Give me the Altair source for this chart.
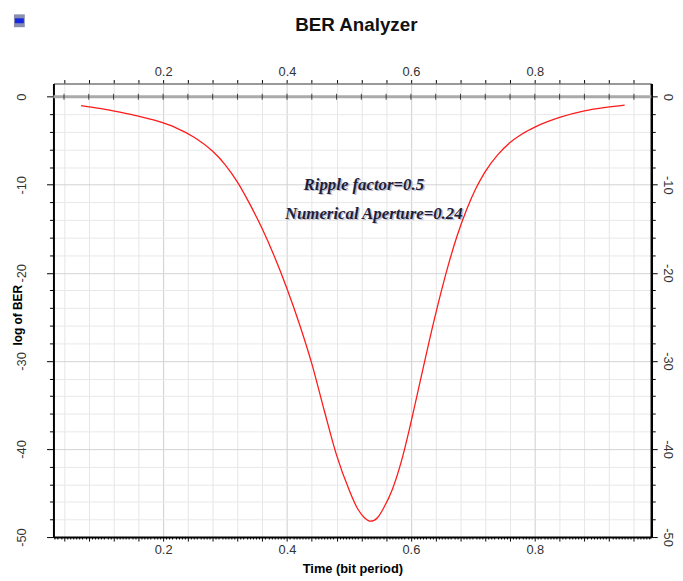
import altair as alt
import pandas as pd

# ---- data ----
time_bit = [0.0675, 0.10, 0.13, 0.16, 0.19, 0.22, 0.25, 0.28, 0.30, 0.32,
            0.34, 0.36, 0.38, 0.40, 0.42, 0.44, 0.46, 0.48, 0.50, 0.515,
            0.525, 0.535, 0.546, 0.556, 0.57, 0.585, 0.60, 0.615, 0.63, 0.645,
            0.66, 0.675, 0.69, 0.705, 0.72, 0.74, 0.76, 0.78, 0.80, 0.84,
            0.88, 0.915, 0.945]
log_ber = [-1.0, -1.35, -1.75, -2.2, -2.75, -3.5, -4.6, -6.2, -7.7, -9.7,
           -12.2, -15.0, -18.2, -21.8, -25.8, -30.3, -35.6, -40.7, -44.6, -46.9,
           -47.8, -48.2, -47.8, -46.7, -44.6, -41.3, -37.0, -32.3, -27.6, -23.2,
           -19.2, -15.7, -12.8, -10.4, -8.5, -6.6, -5.2, -4.2, -3.45, -2.35,
           -1.6, -1.2, -0.95]

annot_text = ["Ripple factor=0.5", "Numerical Aperture=0.24"]
annot_x = [0.524, 0.54]
annot_y = [-10.0, -13.3]

# axis tick positions
bottom_ticks = [round(0.025 + 0.005 * i, 3) for i in range(193)]
top_ticks = [round(0.04 * i, 2) for i in range(1, 25)]
y_ticks = list(range(-50, 1, 2))

df = pd.DataFrame({"t": time_bit, "ber": log_ber})
df_annot = pd.DataFrame({"x": annot_x, "y": annot_y, "label": annot_text})
df_zero = pd.DataFrame({"v": top_ticks})

xscale = alt.Scale(domain=[0.023, 0.988], nice=False, zero=False)
yscale = alt.Scale(domain=[-50, 1.5], nice=False, zero=False)

FONT = "Liberation Sans"
x_major = "abs(datum.value*5 - round(datum.value*5)) < 0.001"
x_grid = "abs(datum.value*25 - round(datum.value*25)) < 0.001"
y_major = "abs(datum.value/10 - round(datum.value/10)) < 0.001"

bottom_axis = alt.Axis(
    orient="bottom", values=bottom_ticks,
    labelExpr=f"{x_major} ? format(datum.value, '.1f') : ''",
    labelFont=FONT, labelFontSize=13, labelColor="#333333", labelPadding=3,
    labelOverlap=False, labelFlush=False,
    tickSize={"condition": {"test": x_grid, "value": 4}, "value": 2},
    tickColor="black", tickWidth=1,
    domainColor="black", domainWidth=2,
    grid=True,
    gridColor={"condition": {"test": x_major, "value": "#cdcdcd"}, "value": "#e6e6e6"},
    gridOpacity={"condition": {"test": x_grid, "value": 1}, "value": 0},
    gridWidth=1,
    title="Time (bit period)", titleFont=FONT, titleFontSize=13,
    titleFontWeight="bold", titleColor="black", titleY=32, titleBaseline="middle",
)

left_axis = alt.Axis(
    orient="left", values=y_ticks,
    labelExpr=f"{y_major} ? '' + datum.value : ''",
    labelFont=FONT, labelFontSize=13, labelColor="#333333",
    labelAngle=270, labelAlign="center", labelBaseline="middle", labelPadding=25,
    labelOverlap=False, labelFlush=False,
    tickSize={"condition": {"test": y_major, "value": 7}, "value": 4},
    tickColor="black", tickWidth=1,
    domainColor="black", domainWidth=2,
    grid=True,
    gridColor={"condition": {"test": y_major, "value": "#d2d2d2"}, "value": "#e8e8e8"},
    gridWidth=1,
    title="log of BER", titleFont=FONT, titleFontSize=12, titleFontWeight="bold",
    titleColor="black", titleAngle=270, titleX=-36, titleY=234,
    titleAlign="center", titleBaseline="middle",
)

top_axis = alt.Axis(
    orient="top", values=top_ticks,
    labelExpr=f"{x_major} ? format(datum.value, '.1f') : ''",
    labelFont=FONT, labelFontSize=13, labelColor="#333333", labelPadding=1,
    labelOverlap=False, labelFlush=False,
    tickSize=4, tickColor="black", tickWidth=1,
    domainColor="#777777", domainWidth=1.5,
    grid=False, title=None,
)

right_axis = alt.Axis(
    orient="right", values=y_ticks,
    labelExpr=f"{y_major} ? '' + datum.value : ''",
    labelFont=FONT, labelFontSize=13, labelColor="#333333",
    labelAngle=90, labelAlign="center", labelBaseline="middle", labelPadding=10,
    labelOverlap=False, labelFlush=False,
    tickSize={"condition": {"test": y_major, "value": 6}, "value": 4},
    tickColor="black", tickWidth=1,
    domainColor="black", domainWidth=2.5,
    grid=False, title=None,
)

line = alt.Chart(df).mark_line(color="#ff1a1a", strokeWidth=1.3, interpolate="monotone").encode(
    x=alt.X("t:Q", scale=xscale, axis=bottom_axis),
    y=alt.Y("ber:Q", scale=yscale, axis=left_axis),
)

zero_rule = alt.Chart(alt.Data(values=[{}])).mark_rule(color="#aaaaaa", strokeWidth=3).encode(
    y=alt.YDatum(0, scale=yscale, axis=None),
)

zero_ticks = alt.Chart(df_zero).mark_tick(color="black", thickness=1, size=6, orient="vertical").encode(
    x=alt.X("v:Q", scale=xscale, axis=None),
    y=alt.YDatum(0, scale=yscale, axis=None),
)

shadow = alt.Chart(df_annot).mark_text(
    font="Liberation Serif", fontSize=17, fontWeight="bold", fontStyle="italic",
    color="#9090a8", opacity=0.55, dx=1.5, dy=1.5,
).encode(
    x=alt.X("x:Q", scale=xscale, axis=None),
    y=alt.Y("y:Q", scale=yscale, axis=None),
    text="label:N",
)

annot = alt.Chart(df_annot).mark_text(
    font="Liberation Serif", fontSize=17, fontWeight="bold", fontStyle="italic",
    color="#1e1e3c",
).encode(
    x=alt.X("x:Q", scale=xscale, axis=top_axis),
    y=alt.Y("y:Q", scale=yscale, axis=right_axis),
    text="label:N",
)

icon_bg = alt.Chart(alt.Data(values=[{}])).mark_rect(color="#8a8fb0").encode(
    x=alt.value(-40), x2=alt.value(-29), y=alt.value(-70), y2=alt.value(-57),
)
icon_band = alt.Chart(alt.Data(values=[{}])).mark_rect(color="#1428e0").encode(
    x=alt.value(-39), x2=alt.value(-30), y=alt.value(-66), y2=alt.value(-61),
)

chart = alt.layer(
    zero_rule, zero_ticks, line, shadow, annot, icon_bg, icon_band
).resolve_axis(
    x="independent", y="independent"
).properties(
    width=605, height=459,
    autosize=alt.AutoSizeParams(type="none"),
    padding={"left": 46, "top": 73, "right": 24, "bottom": 38},
    background="white",
    title=alt.TitleParams(
        "BER Analyzer", anchor="middle", frame="group", font=FONT,
        fontSize=19, fontWeight="bold", color="#111111",
        baseline="middle", offset=-30, dx=4,
    ),
).configure_view(stroke=None)

chart.save("out.html", embed_options={"renderer": "svg", "actions": False})
